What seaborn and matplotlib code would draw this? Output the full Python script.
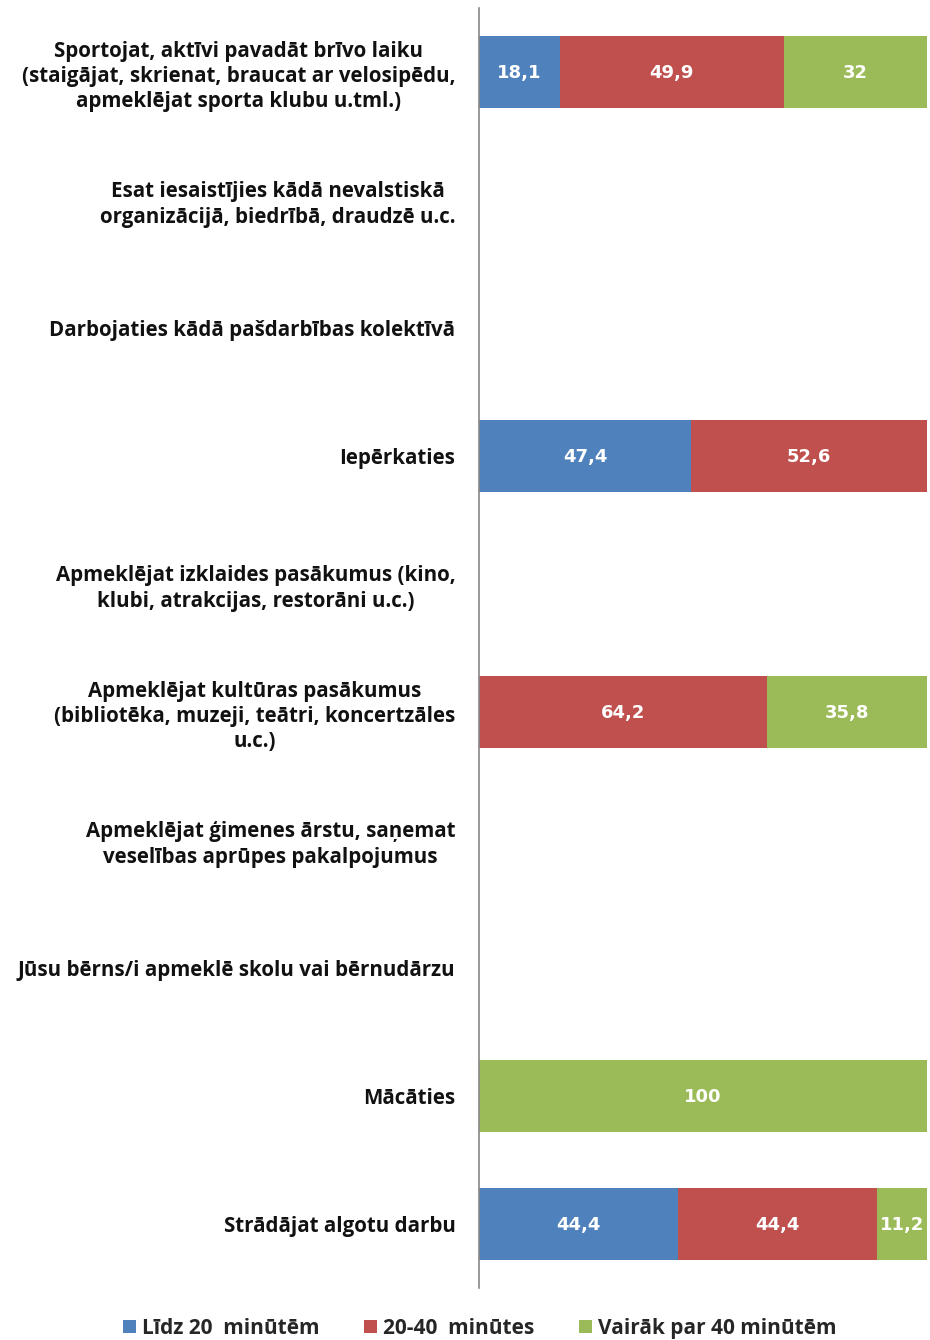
import numpy as np
import pandas as pd
import matplotlib
matplotlib.use("Agg")
import matplotlib.pyplot as plt
from matplotlib.patches import Patch
import seaborn as sns

# data
categories = [
    "Sportojat, aktīvi pavadāt brīvo laiku\n(staigājat, skrienat, braucat ar velosipēdu,\napmeklējat sporta klubu u.tml.)",
    "Esat iesaistījies kādā nevalstiskā\norganizācijā, biedrībā, draudzē u.c.",
    "Darbojaties kādā pašdarbības kolektīvā",
    "Iepērkaties",
    "Apmeklējat izklaides pasākumus (kino,\nklubi, atrakcijas, restorāni u.c.)",
    "Apmeklējat kultūras pasākumus\n(bibliotēka, muzeji, teātri, koncertzāles\nu.c.)",
    "Apmeklējat ģimenes ārstu, saņemat\nveselības aprūpes pakalpojumus",
    "Jūsu bērns/i apmeklē skolu vai bērnudārzu",
    "Mācāties",
    "Strādājat algotu darbu",
]
lidz_20 = [18.1, 0, 0, 47.4, 0, 0, 0, 0, 0, 44.4]
min_20_40 = [49.9, 0, 0, 52.6, 0, 64.2, 0, 0, 0, 44.4]
virs_40 = [32, 0, 0, 0, 0, 35.8, 0, 0, 100, 11.2]
series_names = ["Līdz 20  minūtēm", "20-40  minūtes", "Vairāk par 40 minūtēm"]
colors = ["#4F81BD", "#C0504D", "#9BBB59"]

sns.set_theme(style="white")
plt.rcParams["font.family"] = ["Open Sans", "DejaVu Sans"]

df = pd.DataFrame({"cat": categories, "a": lidz_20, "b": min_20_40, "c": virs_40})
df["ab"] = df["a"] + df["b"]
df["abc"] = df["ab"] + df["c"]

fig = plt.figure(figsize=(9.3, 13.4), dpi=100)
ax = fig.add_axes([479 / 930, 1 - 1288 / 1340, 448 / 930, 1280 / 1340])

# stacked bars: draw cumulative totals back to front
for col, c in zip(["abc", "ab", "a"], colors[::-1]):
    sns.barplot(data=df, x=col, y="cat", orient="h", color=c, width=0.57,
                saturation=1, linewidth=0, ax=ax)

# value labels in the middle of each segment
for i, row in df.iterrows():
    left = 0
    for v in [row["a"], row["b"], row["c"]]:
        if v > 0:
            txt = f"{v:g}".replace(".", ",")
            ax.text(left + v / 2, i + 0.01, txt, ha="center", va="center",
                    color="white", fontsize=13, fontweight="bold",
                    family="DejaVu Sans")
        left += v

ax.set_xlim(0, 100)
ax.set_ylim(len(categories) - 0.5, -0.5)
ax.set_xlabel("")
ax.set_ylabel("")
ax.set_xticks([])
ax.tick_params(axis="y", length=0, pad=17)
for lab in ax.get_yticklabels():
    lab.set_fontsize(14.8)
    lab.set_fontweight("bold")
    lab.set_multialignment("center")
    lab.set_color("#111111")
    lab.set_linespacing(1.25)

for s in ["top", "right", "bottom"]:
    ax.spines[s].set_visible(False)
ax.spines["left"].set_color("#888888")
ax.spines["left"].set_linewidth(1.2)

handles = [Patch(facecolor=c, edgecolor="none") for c in colors]
fig.legend(handles, series_names, loc="lower center", ncol=3, frameon=False,
           bbox_to_anchor=(0.516, -0.013), handlelength=0.6, handleheight=0.6,
           handletextpad=0.3, columnspacing=2.15,
           prop={"size": 15, "weight": "bold", "family": "Open Sans"})

fig.savefig("out.png", dpi=100)
